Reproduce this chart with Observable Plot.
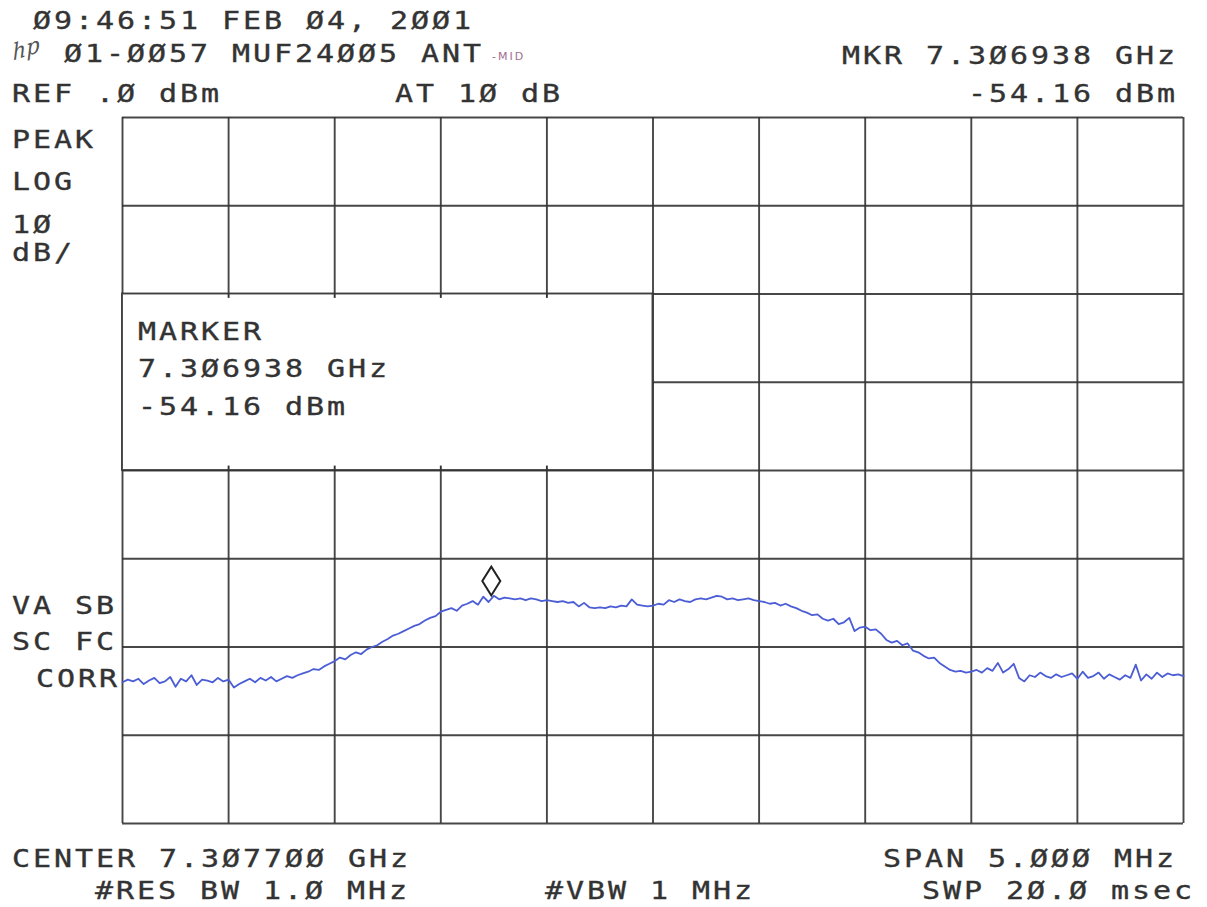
<!DOCTYPE html>
<html>
<head>
<meta charset="utf-8">
<script src="https://cdn.jsdelivr.net/npm/d3@7"></script>
<script src="https://cdn.jsdelivr.net/npm/@observablehq/plot@0.6"></script>
<style>
  html, body { margin: 0; padding: 0; background: #fff; }
  #wrap { position: relative; width: 1207px; height: 907px; overflow: hidden; }
  #wrap svg { position: absolute; left: 0; top: 0; }
  .t { position: absolute; font-family: "DejaVu Sans Mono", monospace; font-size: 25px; line-height: 25px;
       letter-spacing: 2.45px; white-space: pre; color: #333; -webkit-text-stroke: 0.35px #333;
       transform: scaleX(1.2); transform-origin: 0 50%; }
  .hp { position: absolute; font-family: "DejaVu Serif", serif; font-style: italic; font-size: 22px; color: #555;
        transform: rotate(-18deg) skewX(-15deg); }
  .ink { position: absolute; font-family: "DejaVu Sans", sans-serif; font-size: 11px; letter-spacing: 2px; color: #a0708e; }
</style>
</head>
<body>
<div id="wrap"></div>
<script>
// ---- instrument settings ----
const centerGHz = 7.3077;
const spanMHz = 5.0;
const refLevelDbm = 0;
const dbPerDiv = 10;
const xDivisions = 10;
const yDivisions = 8;
const rbwMHz = "1.0";
const vbwMHz = "1";
const sweepMsec = "20.0";
const attenDb = 10;

// ---- marker ----
const markerGHz = 7.306938;
const markerDbm = -54.16;

// ---- trace (dBm), 201 points across the span ----
const traceDbm = [
  -64.0,-63.7,-63.9,-63.6,-64.2,-63.8,-63.5,-64.1,-63.9,-63.4,-64.5,-63.6,-63.9,-63.2,-64.3,-63.7,-63.8,-64.0,-63.5,-63.9,
  -63.7,-64.6,-64.2,-63.9,-63.6,-64.0,-63.5,-63.8,-63.4,-63.9,-63.6,-63.3,-63.5,-63.2,-63.0,-62.8,-62.5,-62.6,-62.2,-61.9,
  -61.6,-61.2,-61.4,-60.9,-60.6,-60.8,-60.3,-60.0,-59.8,-59.4,-59.1,-58.7,-58.5,-58.2,-57.9,-57.6,-57.4,-57.0,-56.7,-56.5,
  -56.0,-55.8,-55.6,-55.9,-55.3,-55.1,-54.8,-55.2,-54.3,-54.9,-54.2,-54.6,-54.4,-54.5,-54.6,-54.5,-54.7,-54.5,-54.6,-54.8,
  -54.7,-54.8,-54.9,-54.8,-55.0,-54.9,-55.4,-55.0,-55.5,-55.6,-55.5,-55.6,-55.4,-55.5,-55.3,-55.4,-54.6,-55.2,-55.3,-55.4,
  -55.3,-55.1,-55.2,-54.7,-54.9,-54.6,-54.8,-54.9,-54.6,-54.5,-54.6,-54.4,-54.2,-54.3,-54.6,-54.5,-54.7,-54.6,-54.5,-54.7,
  -54.8,-54.9,-55.1,-55.0,-55.3,-55.1,-55.4,-55.6,-55.9,-56.1,-56.4,-56.3,-56.8,-57.0,-56.8,-57.4,-57.2,-56.7,-58.2,-57.8,
  -57.7,-58.1,-58.0,-58.5,-59.2,-59.5,-59.3,-59.8,-59.6,-60.4,-60.6,-61.0,-61.3,-61.2,-61.8,-62.2,-62.6,-62.8,-62.7,-62.9,
  -62.8,-62.6,-62.9,-62.4,-62.7,-61.8,-62.9,-62.5,-61.9,-63.5,-63.9,-63.2,-63.4,-62.9,-63.3,-63.5,-63.1,-63.4,-63.2,-63.0,
  -63.6,-62.8,-63.5,-63.3,-62.9,-63.6,-63.1,-63.4,-63.7,-63.2,-63.5,-62.0,-63.8,-63.1,-63.6,-62.9,-63.4,-63.0,-63.2,-63.1,-63.3
];

// ---- derived scales ----
const fStart = centerGHz - spanMHz / 2000;
const fStop = centerGHz + spanMHz / 2000;
const divGHz = spanMHz / 1000 / xDivisions;
const yBottom = refLevelDbm - dbPerDiv * yDivisions;
const trace = traceDbm.map((d, i) => ({ f: fStart + i * (fStop - fStart) / (traceDbm.length - 1), dbm: d }));
const xGrid = d3.range(xDivisions + 1).map(k => fStart + k * divGHz);
const yGrid = d3.range(yDivisions + 1).map(k => refLevelDbm - k * dbPerDiv);

// marker readout box spans the left half, 2nd to 4th graticule line
const box = { x1: fStart, x2: fStart + 5 * divGHz, y1: refLevelDbm - 2 * dbPerDiv, y2: refLevelDbm - 4 * dbPerDiv };
const boxTicks = xGrid.slice(1, 5);

// tall diamond marker symbol, tip at the data point
const tallDiamond = {
  draw(ctx, size) {
    const w = Math.sqrt(size / Math.PI);
    const h = w * 1.6;
    ctx.moveTo(0, 0);
    ctx.lineTo(-w, -h);
    ctx.lineTo(0, -2 * h);
    ctx.lineTo(w, -h);
    ctx.closePath();
  }
};

const gridStroke = "#333";
const chart = Plot.plot({
  width: 1207, height: 907,
  marginLeft: 122, marginRight: 24, marginTop: 117, marginBottom: 84,
  x: { domain: [fStart, fStop], axis: null },
  y: { domain: [yBottom, refLevelDbm], axis: null },
  style: { background: "transparent" },
  marks: [
    Plot.ruleX(xGrid, { stroke: gridStroke, strokeWidth: 1.9, strokeOpacity: 0.9 }),
    Plot.ruleY(yGrid, { stroke: gridStroke, strokeWidth: 1.9, strokeOpacity: 0.9 }),
    Plot.rect([box], { x1: "x1", x2: "x2", y1: "y1", y2: "y2", fill: "white", stroke: gridStroke, strokeWidth: 1.9, strokeOpacity: 0.9 }),
    Plot.ruleX(boxTicks, { y1: box.y1, y2: box.y1 - 0.5, stroke: gridStroke, strokeWidth: 1.9 }),
    Plot.ruleX(boxTicks, { y1: box.y2, y2: box.y2 + 0.5, stroke: gridStroke, strokeWidth: 1.9 }),
    Plot.line(trace, { x: "f", y: "dbm", stroke: "#4b5dd5", strokeWidth: 1.8, strokeLinejoin: "round" }),
    Plot.dot([{ f: markerGHz, dbm: markerDbm }], { x: "f", y: "dbm", symbol: tallDiamond, r: 9, fill: "white", stroke: "#222", strokeWidth: 2 })
  ]
});
const wrap = document.getElementById("wrap");
wrap.appendChild(chart);

// ---- instrument annotation text ----
const z = s => String(s).replace(/0/g, "Ø");
const labels = [
  ["Ø9:46:51 FEB Ø4, 2ØØ1", 33, 8],
  [z("01-0057 MUF24005 ANT"), 64, 41],
  [z(`REF .${refLevelDbm} dBm`), 12, 81],
  [z(`AT ${attenDb} dB`), 395, 81],
  [z(`MKR ${markerGHz.toFixed(6)} GHz`), 842, 43],
  [z(`${markerDbm.toFixed(2)} dBm`), 968, 81],
  ["PEAK", 12, 127],
  ["LOG", 12, 169],
  [z(`${dbPerDiv}`), 12, 212],
  ["dB/", 12, 240],
  ["MARKER", 138, 319],
  [z(`${markerGHz.toFixed(6)} GHz`), 138, 356],
  [z(`${markerDbm.toFixed(2)} dBm`), 138, 394],
  ["VA SB", 12, 593],
  ["SC FC", 12, 629],
  ["CORR", 36, 666],
  [z(`CENTER ${centerGHz.toFixed(6)} GHz`), 12, 846],
  [z(`#RES BW ${rbwMHz} MHz`), 95, 878],
  [z(`#VBW ${vbwMHz} MHz`), 545, 878],
  [z(`SPAN ${spanMHz.toFixed(3)} MHz`), 883, 846],
  [z(`SWP ${sweepMsec} msec`), 922, 878]
];
for (const [txt, left, top] of labels) {
  const d = document.createElement("div");
  d.className = "t";
  d.textContent = txt;
  d.style.left = left + "px";
  d.style.top = top + "px";
  wrap.appendChild(d);
}
const hp = document.createElement("div");
hp.className = "hp"; hp.textContent = "hp";
hp.style.left = "12px"; hp.style.top = "36px";
wrap.appendChild(hp);
const ink = document.createElement("div");
ink.className = "ink"; ink.textContent = "-MID";
ink.style.left = "492px"; ink.style.top = "50px";
wrap.appendChild(ink);
</script>
</body>
</html>
